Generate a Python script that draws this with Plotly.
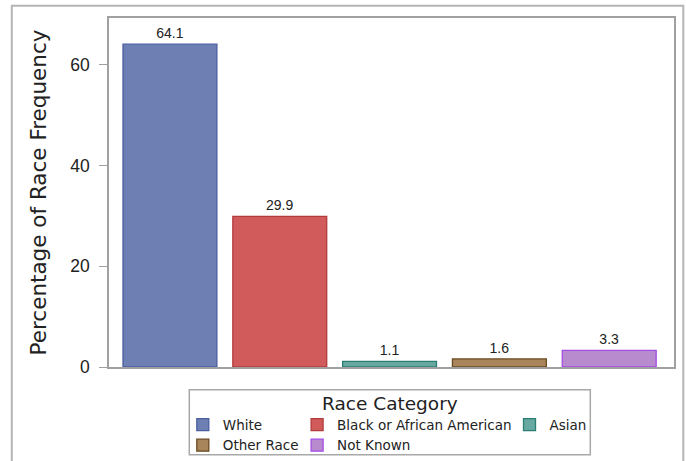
import plotly.graph_objects as go

categories = ["White", "Black or African American", "Asian", "Other Race", "Not Known"]
percentages = [64.1, 29.9, 1.1, 1.6, 3.3]
fill_colors = ["#6E7FB4", "#D15B5B", "#66A9A1", "#A9855C", "#B78BCE"]
edge_colors = ["#4A5FA0", "#B23C3C", "#2C7D74", "#6B4A20", "#A44CE6"]
legend_ids = ["legend", "legend2", "legend3", "legend", "legend2"]
y_ticks = [0, 20, 40, 60]

fig = go.Figure()
for i, cat in enumerate(categories):
    fig.add_trace(go.Bar(
        x=[cat], y=[percentages[i]], name=cat,
        marker=dict(color=fill_colors[i], line=dict(color=edge_colors[i], width=1.3)),
        text=[f"{percentages[i]:.1f}"], textposition="outside",
        textfont=dict(family="Liberation Sans", size=14, color="#222222"),
        cliponaxis=False,
        legend=legend_ids[i],
    ))

def px_x(p):
    return (p - 108.7) / 565.0

def px_y(p):
    return (366.7 - p) / 348.4

legend_common = dict(
    orientation="v", xanchor="left", yanchor="top",
    font=dict(family="DejaVu Sans", size=13.5, color="#222222"),
    bgcolor="rgba(0,0,0,0)", borderwidth=0, tracegroupgap=0,
    itemclick=False, itemdoubleclick=False,
)

fig.update_layout(
    width=686, height=461,
    margin=dict(l=109, r=12, t=18, b=94, autoexpand=False),
    paper_bgcolor="white", plot_bgcolor="white",
    bargap=0.145,
    showlegend=True,
    legend=dict(x=px_x(182.5), y=px_y(409), **legend_common),
    legend2=dict(x=px_x(296.8), y=px_y(409), **legend_common),
    legend3=dict(x=px_x(509.2), y=px_y(409), **legend_common),
    xaxis=dict(
        range=[-0.555, 4.59], showticklabels=False, ticks="",
        showline=True, linecolor="#A0A0A0", linewidth=1.5, mirror=True,
        showgrid=False, zeroline=False, fixedrange=True,
        categoryorder="array", categoryarray=categories,
    ),
    yaxis=dict(
        range=[0, 69.3], tickvals=y_ticks, ticks="outside", ticklen=8,
        tickcolor="#A0A0A0", tickwidth=1.2,
        tickfont=dict(family="Liberation Sans", size=17.5, color="#222222"),
        ticklabelstandoff=6,
        showline=True, linecolor="#A0A0A0", linewidth=1.5, mirror=True,
        showgrid=False, zeroline=False, fixedrange=True,
        title=dict(text="Percentage of Race Frequency",
                   font=dict(family="DejaVu Sans", size=21.5, color="#222222"),
                   standoff=18),
    ),
    shapes=[
        dict(type="rect", xref="paper", yref="paper",
             x0=px_x(11.5), x1=px_x(683), y0=px_y(470), y1=px_y(6),
             line=dict(color="#B4B4B4", width=2), fillcolor="rgba(0,0,0,0)", layer="below"),
        dict(type="rect", xref="paper", yref="paper",
             x0=px_x(189), x1=px_x(590), y0=px_y(454.3), y1=px_y(389.3),
             line=dict(color="#A8A8A8", width=1.5), fillcolor="rgba(0,0,0,0)"),
    ],
    annotations=[
        dict(text="Race Category", xref="paper", yref="paper",
             x=px_x(389.5), y=px_y(403.5), xanchor="center", yanchor="middle",
             showarrow=False,
             font=dict(family="DejaVu Sans", size=18.5, color="#222222")),
    ],
)

fig.write_html("out.html",
               config={"displayModeBar": False},
               post_script="document.body.style.margin='0';document.body.style.overflow='hidden';")
